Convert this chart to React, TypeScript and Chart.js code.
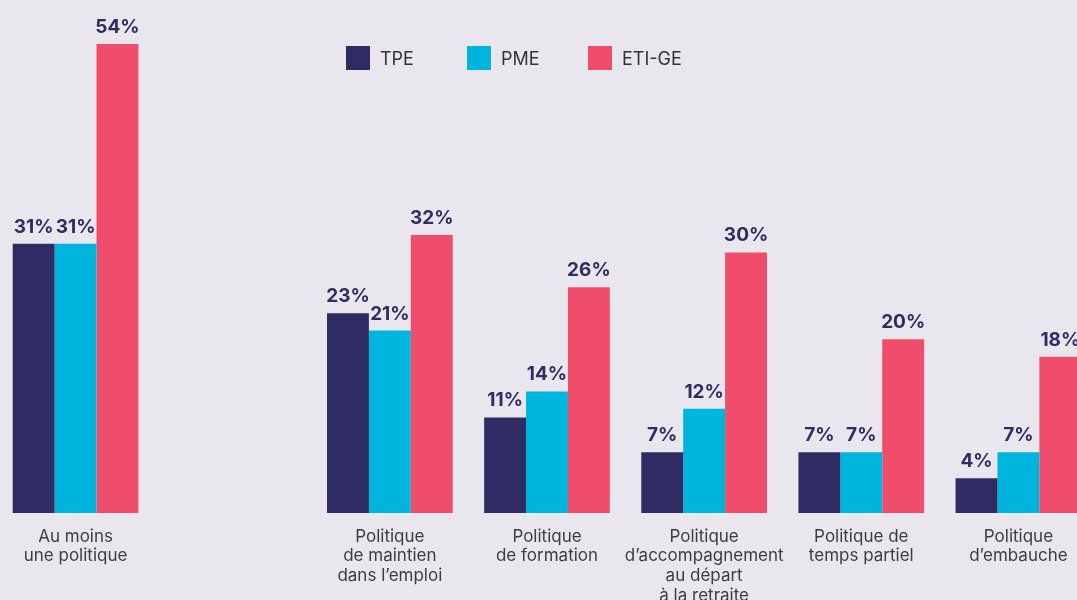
import React, { useEffect, useRef } from "react";
import { Chart, registerables } from "chart.js";

Chart.register(...registerables);

const categories: (string | string[])[] = [
  ["Au moins", "une politique"],
  "",
  ["Politique", "de maintien", "dans l’emploi"],
  ["Politique", "de formation"],
  ["Politique", "d’accompagnement", "au départ", "à la retraite"],
  ["Politique de", "temps partiel"],
  ["Politique", "d’embauche"],
];

const seriesNames = ["TPE", "PME", "ETI-GE"];
const tpeValues = [31, null, 23, 11, 7, 7, 4];
const pmeValues = [31, null, 21, 14, 12, 7, 7];
const etiValues = [54, null, 32, 26, 30, 20, 18];
const seriesColors = ["#2f2c64", "#00b5dd", "#f04d6c"];

const BG = "#e9e6ee";
const FONT = "Inter, 'Noto Sans', sans-serif";
const CANVAS_LEFT = -3;

const valueLabels = {
  id: "valueLabels",
  afterDatasetsDraw(chart: any) {
    const ctx = chart.ctx;
    ctx.save();
    ctx.font = `700 19px ${FONT}`;
    ctx.fillStyle = "#2f2c64";
    ctx.textAlign = "center";
    ctx.textBaseline = "alphabetic";
    chart.data.datasets.forEach((ds: any, di: number) => {
      const meta = chart.getDatasetMeta(di);
      meta.data.forEach((el: any, i: number) => {
        const v = ds.data[i];
        if (v === null || v === undefined) return;
        ctx.fillText(`${v}%`, el.x, el.y - 11);
      });
    });
    ctx.restore();
  },
};

const customLegend = {
  id: "customLegend",
  afterDraw(chart: any, _args: any, opts: any) {
    const ctx = chart.ctx;
    ctx.save();
    ctx.font = `400 18px ${FONT}`;
    ctx.textBaseline = "middle";
    ctx.textAlign = "left";
    chart.data.datasets.forEach((ds: any, i: number) => {
      const x = opts.x + i * opts.pitch - CANVAS_LEFT;
      const y = opts.y;
      ctx.fillStyle = ds.backgroundColor;
      ctx.fillRect(x, y, 24, 24);
      ctx.fillStyle = "#333333";
      ctx.fillText(ds.label, x + 34, y + 14);
    });
    ctx.restore();
  },
};

export default function App() {
  const ref = useRef<HTMLCanvasElement | null>(null);

  useEffect(() => {
    if (!ref.current) return;
    const values = [tpeValues, pmeValues, etiValues];
    const chart = new Chart(ref.current, {
      type: "bar",
      data: {
        labels: categories,
        datasets: values.map((d, i) => ({
          label: seriesNames[i],
          data: d,
          backgroundColor: seriesColors[i],
          borderWidth: 0,
          categoryPercentage: 0.8,
          barPercentage: 1,
        })),
      },
      options: {
        animation: false,
        responsive: false,
        maintainAspectRatio: false,
        layout: { padding: { top: 44, left: 0, right: 0, bottom: 0 } },
        plugins: {
          legend: { display: false },
          tooltip: { enabled: false },
          customLegend: { x: 346, y: 46, pitch: 121 },
        } as any,
        scales: {
          x: {
            offset: true,
            grid: { display: false },
            border: { display: false },
            afterFit: (scale: any) => {
              scale.height = 87;
            },
            ticks: {
              autoSkip: false,
              maxRotation: 0,
              minRotation: 0,
              padding: 6,
              color: "#3d3d3d",
              font: { family: FONT, size: 17, weight: "400", lineHeight: 1.15 },
            },
          },
          y: {
            display: false,
            min: 0,
            max: 54,
          },
        },
      },
      plugins: [valueLabels, customLegend],
    });
    return () => chart.destroy();
  }, []);

  return (
    <div
      style={{
        position: "fixed",
        left: 0,
        top: 0,
        width: 1077,
        height: 600,
        overflow: "hidden",
        background: BG,
      }}
    >
      <canvas
        ref={ref}
        width={1100}
        height={600}
        style={{ position: "absolute", left: CANVAS_LEFT, top: 0, width: 1100, height: 600 }}
      />
    </div>
  );
}
